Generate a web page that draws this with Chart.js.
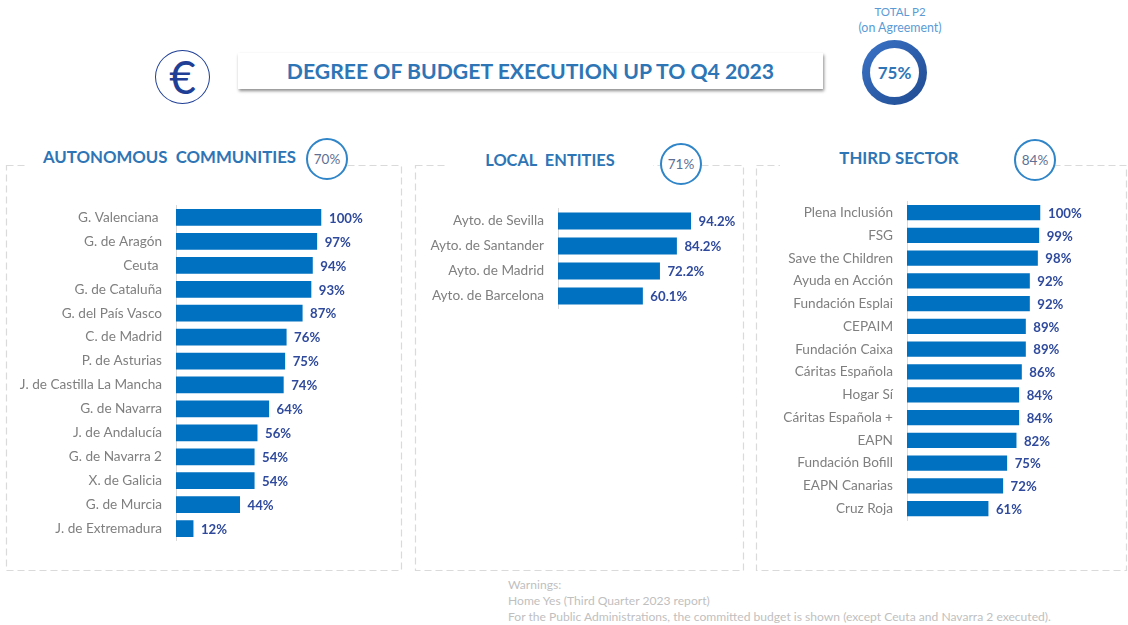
<!DOCTYPE html>
<html>
<head>
<meta charset="utf-8">
<script src="https://cdn.jsdelivr.net/npm/chart.js@4/dist/chart.umd.min.js"></script>
<style>
html,body{margin:0;padding:0;background:#fff;}
body{width:1128px;height:625px;position:relative;overflow:hidden;font-family:Lato,sans-serif;}
.a{position:absolute;}
.head{position:absolute;background:#fff;color:#2e75b6;font-weight:700;font-size:16.8px;text-align:center;white-space:pre;}
.badge{position:absolute;width:38px;height:38px;border:2px solid #2f85c8;border-radius:50%;background:#fff;color:#5d6f93;font-size:13.5px;line-height:38px;text-align:center;}
canvas{position:absolute;}
svg{position:absolute;left:0;top:0;}
</style>
</head>
<body>
<svg width="1128" height="625" fill="none" stroke="#dadada" stroke-width="1.2" stroke-dasharray="7 4">
<rect x="6.5" y="165.5" width="395" height="405"/>
<rect x="415.5" y="165.5" width="328" height="405"/>
<rect x="756.5" y="165.5" width="370" height="405"/>
</svg>

<div class="head" style="left:28px;top:142px;width:283px;height:50px;line-height:30px;">AUTONOMOUS  COMMUNITIES</div>
<div class="head" style="left:447px;top:142px;width:206px;height:38px;line-height:36px;font-size:16.4px;">LOCAL  ENTITIES</div>
<div class="head" style="left:780px;top:140px;width:238px;height:35px;line-height:35px;">THIRD SECTOR</div>
<div class="badge" style="left:306px;top:138px">70%</div>
<div class="badge" style="left:660px;top:143px">71%</div>
<div class="badge" style="left:1014px;top:139px">84%</div>

<div class="a" style="left:155px;top:50px;width:53px;height:52px;border:1.5px solid #1f3f96;border-radius:50%;color:#1f3f96;font-size:46px;line-height:52px;text-align:center;font-weight:400;font-family:Lato,sans-serif;">€</div>
<div class="a" style="left:238px;top:53px;width:585px;height:36px;background:#fff;box-shadow:1px 2px 3px #8c8c8c;color:#2e75b6;font-weight:700;font-size:21.2px;line-height:36px;text-align:center;">DEGREE OF BUDGET EXECUTION UP TO Q4 2023</div>

<div class="a" style="left:840px;top:4px;width:120px;text-align:center;color:#5b9bd5;font-size:12.4px;line-height:16px;"><span style="font-size:11.5px">TOTAL P2</span><br>(on Agreement)</div>
<div class="a" style="left:862px;top:40px;width:65px;height:65px;border-radius:50%;background:linear-gradient(135deg,#3b73c8,#1f4a8f);"></div>
<div class="a" style="left:870px;top:48px;width:49px;height:49px;border-radius:50%;background:#fff;color:#2e75b6;font-weight:700;font-size:17px;line-height:50px;text-align:center;">75%</div>

<div class="a" style="left:508px;top:577px;color:#bfbfbf;font-size:12.1px;line-height:16px;white-space:pre;">Warnings:
Home Yes (Third Quarter 2023 report)
For the Public Administrations, the committed budget is shown (except Ceuta and Navarra 2 executed).</div>

<canvas id="c1"></canvas>
<canvas id="c2"></canvas>
<canvas id="c3"></canvas>

<script>
const acCategories = ["G. Valenciana ","G. de Aragón","Ceuta ","G. de Cataluña","G. del País Vasco","C. de Madrid","P. de Asturias","J. de Castilla La Mancha","G. de Navarra","J. de Andalucía","G. de Navarra 2","X. de Galicia","G. de Murcia","J. de Extremadura"];
const acValues = [100,97,94,93,87,76,75,74,64,56,54,54,44,12];
const leCategories = ["Ayto. de Sevilla","Ayto. de Santander","Ayto. de Madrid","Ayto. de Barcelona"];
const leValues = [94.2,84.2,72.2,60.1];
const tsCategories = ["Plena Inclusión","FSG","Save the Children","Ayuda en Acción","Fundación Esplai","CEPAIM","Fundación Caixa","Cáritas Española","Hogar Sí","Cáritas Española +","EAPN","Fundación Bofill","EAPN Canarias","Cruz Roja"];
const tsValues = [100,99,98,92,92,89,89,86,84,84,82,75,72,61];

const valueLabels = {
  id:'valueLabels',
  afterDatasetsDraw(chart){
    const {ctx} = chart, meta = chart.getDatasetMeta(0), ds = chart.data.datasets[0];
    ctx.save();
    ctx.font = '700 13.2px Lato, sans-serif';
    ctx.fillStyle = '#2f4a9c';
    ctx.textBaseline = 'middle';
    ctx.textAlign = 'left';
    meta.data.forEach((bar,i)=>{
      ctx.fillText(ds.valueText(ds.data[i]), bar.x + 7.5, bar.y + 1);
    });
    ctx.restore();
  }
};

function draw(id, categories, values, fmt, g){
  const cv = document.getElementById(id);
  cv.style.left = g.left+'px'; cv.style.top = g.top+'px';
  cv.width = g.width; cv.height = g.height;
  cv.style.width = g.width+'px'; cv.style.height = g.height+'px';
  new Chart(cv,{
    type:'bar',
    data:{labels:categories,datasets:[{data:values,backgroundColor:'#0070c0',borderWidth:0,
      categoryPercentage:1,barPercentage:g.bar,valueText:fmt}]},
    options:{
      indexAxis:'y',responsive:false,animation:false,
      layout:{padding:{top:g.plotTop-g.top,bottom:g.top+g.height-g.plotBottom,
        left:0,right:g.width-(g.axisX-g.left)-g.plotW}},
      plugins:{legend:{display:false},tooltip:{enabled:false}},
      scales:{
        x:{display:false,min:0,max:100},
        y:{
          afterFit(s){s.width=g.axisX-g.left;s.paddingTop=0;s.paddingBottom=0;},
          grid:{display:false,drawTicks:false},
          border:{display:true,color:'#d9d9d9',width:1},
          ticks:{color:'#7f7f7f',font:{family:'Lato, sans-serif',size:13.6},padding:14,autoSkip:false}
        }
      }
    },
    plugins:[valueLabels]
  });
}
draw('c1',acCategories,acValues,v=>v+'%',{left:10,top:195,width:385,height:355,axisX:176,plotW:145.5,plotTop:205.5,plotBottom:540.5,bar:.7});
draw('c2',leCategories,leValues,v=>v.toFixed(1)+'%',{left:420,top:195,width:320,height:130,axisX:558,plotW:141.2,plotTop:208.5,plotBottom:308.5,bar:.68});
draw('c3',tsCategories,tsValues,v=>v+'%',{left:760,top:190,width:365,height:340,axisX:907,plotW:133.5,plotTop:201.2,plotBottom:520,bar:.67});
</script>
</body>
</html>
